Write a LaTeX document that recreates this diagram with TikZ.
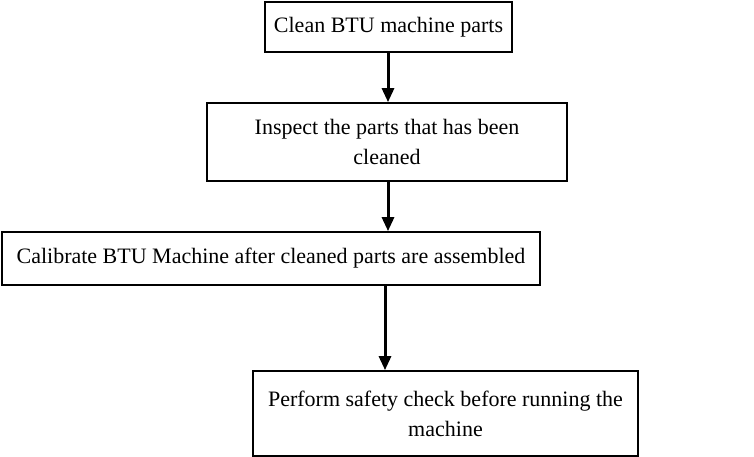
\documentclass[tikz,border=0pt]{standalone}
\usepackage{fontspec}
\setmainfont{Liberation Serif}
\usetikzlibrary{arrows.meta}
\begin{document}
\begin{tikzpicture}[x=1pt,y=-1pt,
  stepbox/.style={draw=black, line width=1.7pt, inner sep=0pt, align=center,
    font=\fontsize{22}{30}\selectfont},
  flow/.style={line width=3pt, -{Triangle[length=14pt,width=12pt]}}]
  \useasboundingbox (0,0) rectangle (754,457);
  % process steps, top to bottom
  \node[stepbox, minimum width=247pt, minimum height=50pt] (b1) at (388.5,27) {Clean BTU machine parts};
  \node[stepbox, minimum width=360pt, minimum height=78pt] (b2) at (387,142) {Inspect the parts that has been\\cleaned};
  \node[stepbox, minimum width=538pt, minimum height=53pt] (b3) at (271,258.5) {Calibrate BTU Machine after cleaned parts are assembled};
  \node[stepbox, minimum width=385pt, minimum height=85pt] (b4) at (445.5,413.5) {Perform safety check before running the\\machine};
  % vertical guides for the arrows
  \coordinate (c1) at (388,0);
  \coordinate (c3) at (385,0);
  \draw[flow] (b1.south -| c1) -- (b2.north -| c1);
  \draw[flow] (b2.south -| c1) -- (b3.north -| c1);
  \draw[flow] (b3.south -| c3) -- (b4.north -| c3);
\end{tikzpicture}
\end{document}
